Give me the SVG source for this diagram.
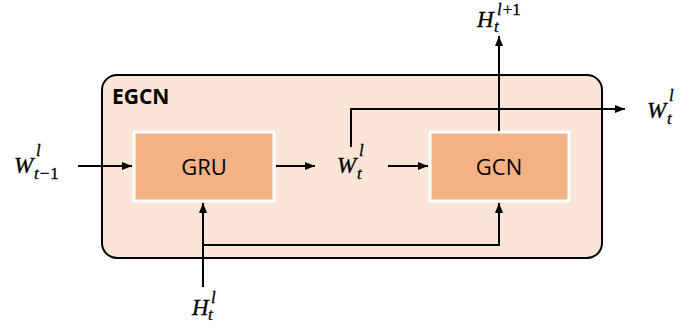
<svg xmlns="http://www.w3.org/2000/svg" width="699" height="328" viewBox="0 0 699 328">
<style>
.node rect{fill:#F4B183;stroke:#FFFFFF;stroke-width:3}
.lbl{font-family:"Open Sans","Noto Sans",sans-serif;font-size:22px;fill:#000;text-anchor:middle;dominant-baseline:central}
.math{font-family:"Liberation Serif","DejaVu Serif",serif;font-style:italic;fill:#000;font-size:23px;stroke:#000;stroke-width:0.3}
.s{font-size:17px}
.u{font-style:normal}
.conn path{fill:none;stroke:#000;stroke-width:2}
</style>
<defs>
<marker id="ah" viewBox="0 0 10 10" refX="10" refY="5" markerWidth="10" markerHeight="10" markerUnits="userSpaceOnUse" orient="auto"><path d="M0,1 L10,5 L0,9 z" fill="#000"/></marker>
</defs>
<rect x="0" y="0" width="699" height="328" fill="#fff"/>
<g id="egcn">
<rect x="102" y="75" width="500" height="183" rx="15" fill="#FBE5D6" stroke="#000" stroke-width="2"/>
<text x="112" y="104" font-family="Open Sans,Noto Sans,sans-serif" font-weight="bold" font-size="21">EGCN</text>
</g>
<g id="gru" class="node">
<rect x="134" y="132" width="140" height="69"/>
<text class="lbl" x="204" y="166">GRU</text>
</g>
<g id="gcn" class="node">
<rect x="430" y="132" width="139" height="69"/>
<text class="lbl" x="499" y="166">GCN</text>
</g>
<g class="conn">
<path d="M78,166 H132" marker-end="url(#ah)"/>
<path d="M276,166 H315" marker-end="url(#ah)"/>
<path d="M388,166 H428" marker-end="url(#ah)"/>
<path d="M351,147 V109 H625" marker-end="url(#ah)"/>
<path d="M499,131 V36" marker-end="url(#ah)"/>
<path d="M203,287 V203" marker-end="url(#ah)"/>
<path d="M203,245 H499 V203" marker-end="url(#ah)"/>
</g>
<g id="labels">
<text class="math"><tspan x="14" y="173">W</tspan><tspan class="s" x="36" y="156">l</tspan><tspan class="s" x="34" y="179">t</tspan><tspan class="s u" dx="1">−</tspan><tspan class="s u" dx="1">1</tspan></text>
<text class="math"><tspan x="337" y="173">W</tspan><tspan class="s" x="359" y="156">l</tspan><tspan class="s" x="357" y="179">t</tspan></text>
<text class="math"><tspan x="647" y="118">W</tspan><tspan class="s" x="669" y="101">l</tspan><tspan class="s" x="667" y="124">t</tspan></text>
<text class="math"><tspan x="477" y="27">H</tspan><tspan class="s" x="497" y="15">l</tspan><tspan class="s u" dx="1">+1</tspan><tspan class="s" x="494" y="32">t</tspan></text>
<text class="math"><tspan x="192" y="315">H</tspan><tspan class="s" x="211" y="303">l</tspan><tspan class="s" x="208" y="320">t</tspan></text>
</g>
</svg>
